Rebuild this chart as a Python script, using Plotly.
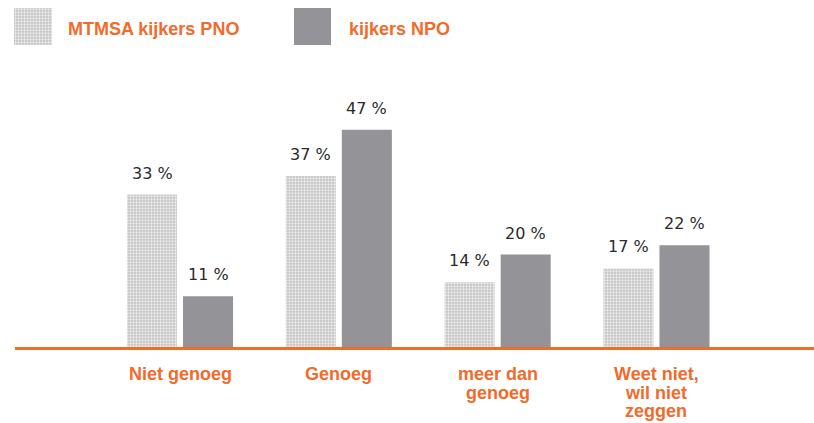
import plotly.graph_objects as go

categories = ["Niet genoeg", "Genoeg", "meer dan\ngenoeg", "Weet niet,\nwil niet\nzeggen"]
series_names = ["MTMSA kijkers PNO", "kijkers NPO"]
mtmsa_values = [33, 37, 14, 17]
npo_values = [11, 47, 20, 22]

ORANGE = "#f26a2c"
GRAY = "#939398"
TEXT = "#2b2b2b"
W, H = 814, 423
PLOT_BOTTOM = 347  # pixel of baseline
B = H - PLOT_BOTTOM
PX_PER_UNIT = 4.62
YMAX = PLOT_BOTTOM / PX_PER_UNIT

xpos = list(range(len(categories)))
pattern = dict(shape=".", fillmode="replace", bgcolor="#c4c4c4", fgcolor="#ececec", size=3, solidity=0.45)

fig = go.Figure()
fig.add_trace(go.Bar(x=xpos, y=mtmsa_values, name=series_names[0], width=0.315, offset=-0.334,
                     marker=dict(color="#c4c4c4", pattern=pattern, line=dict(width=0)),
                     showlegend=False, hoverinfo="skip"))
fig.add_trace(go.Bar(x=xpos, y=npo_values, name=series_names[1], width=0.315, offset=0.019,
                     marker=dict(color=GRAY, line=dict(width=0)), showlegend=False, hoverinfo="skip"))

# legend swatches on their own small axes
fig.add_trace(go.Bar(x=[0], y=[1], width=1, xaxis="x2", yaxis="y2",
                     marker=dict(color="#c4c4c4", pattern=pattern, line=dict(width=0)),
                     showlegend=False, hoverinfo="skip"))
fig.add_trace(go.Bar(x=[0], y=[1], width=1, xaxis="x3", yaxis="y3",
                     marker=dict(color=GRAY, line=dict(width=0)), showlegend=False, hoverinfo="skip"))

annotations = []
for i, (a, b) in enumerate(zip(mtmsa_values, npo_values)):
    for val, off in ((a, -0.1755), (b, 0.1765)):
        annotations.append(dict(x=i + off, y=val, xref="x", yref="y", text=f"{val} %",
                                showarrow=False, yanchor="bottom", yshift=10,
                                font=dict(family="DejaVu Sans", size=16, color=TEXT)))
    for j, line in enumerate(categories[i].split("\n")):
        annotations.append(dict(x=i, y=0, xref="x", yref="y", text=f"<b>{line}</b>",
                                showarrow=False, yanchor="middle", yshift=-27 - 18.5 * j,
                                font=dict(family="Liberation Sans", size=18, color=ORANGE)))

ph = PLOT_BOTTOM
annotations.append(dict(x=66 / W, y=(ph - 29) / ph, xref="paper", yref="paper", xanchor="left",
                        yanchor="middle", text=f"<b>{series_names[0]}</b>", showarrow=False,
                        font=dict(family="Liberation Sans", size=18, color=ORANGE)))
annotations.append(dict(x=347 / W, y=(ph - 29) / ph, xref="paper", yref="paper", xanchor="left",
                        yanchor="middle", text=f"<b>{series_names[1]}</b>", showarrow=False,
                        font=dict(family="Liberation Sans", size=18, color=ORANGE)))

sw_y = [(ph - 45) / ph, (ph - 8) / ph]
hidden = dict(visible=False, fixedrange=True)

fig.update_layout(
    width=W, height=H,
    margin=dict(l=0, r=0, t=0, b=B, pad=0),
    paper_bgcolor="white", plot_bgcolor="white",
    barmode="overlay",
    xaxis=dict(domain=[15 / W, 1], range=[-1.039, 3.992], showgrid=False, zeroline=False,
               showticklabels=False, ticks="", showline=True, linecolor=ORANGE, linewidth=2.5,
               fixedrange=True),
    yaxis=dict(range=[0, YMAX], showgrid=False, zeroline=False, showticklabels=False,
               showline=False, fixedrange=True),
    xaxis2=dict(domain=[14 / W, 52 / W], range=[-0.5, 0.5], anchor="y2", **hidden),
    yaxis2=dict(domain=sw_y, range=[0, 1], anchor="x2", **hidden),
    xaxis3=dict(domain=[294 / W, 331 / W], range=[-0.5, 0.5], anchor="y3", **hidden),
    yaxis3=dict(domain=sw_y, range=[0, 1], anchor="x3", **hidden),
    annotations=annotations,
    showlegend=False,
)

fig.write_html("out.html", config={"displayModeBar": False},
               post_script="document.body.style.margin='0';document.body.style.overflow='hidden';")
